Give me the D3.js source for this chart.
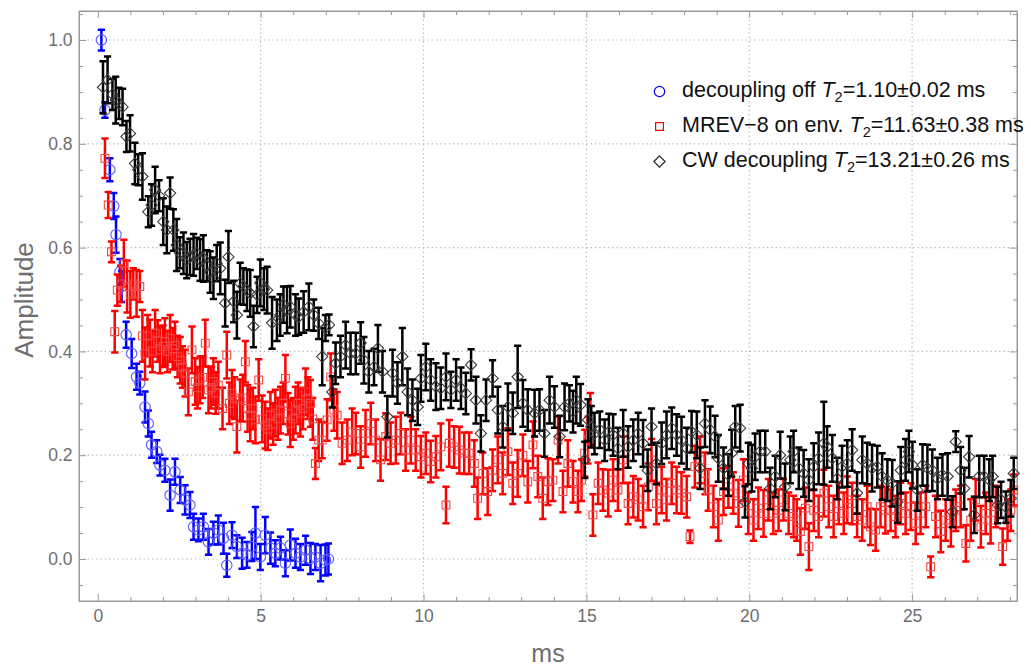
<!DOCTYPE html>
<html>
<head>
<meta charset="utf-8">
<script src="https://cdn.jsdelivr.net/npm/d3@7"></script>
<style>
  body { margin: 0; background: #fff; }
  svg { display: block; }
  text { font-family: "Liberation Sans", Arial, sans-serif; }
</style>
</head>
<body>
<svg id="chart" width="1031" height="666"></svg>
<script>
// Echo amplitude decay, [time (ms), amplitude, error]
const decouplingOff = [[0.11,1.000,0.020],[0.22,0.865,0.015],[0.37,0.750,0.022],[0.49,0.680,0.025],[0.56,0.625,0.035],[0.68,0.553,0.025],[0.73,0.525,0.030],[0.87,0.432,0.025],[1.04,0.396,0.028],[1.19,0.351,0.025],[1.29,0.339,0.022],[1.45,0.293,0.030],[1.55,0.261,0.025],[1.65,0.220,0.025],[1.81,0.207,0.022],[1.91,0.181,0.020],[2.06,0.171,0.022],[2.22,0.123,0.030],[2.37,0.168,0.025],[2.53,0.133,0.025],[2.68,0.114,0.028],[2.83,0.104,0.025],[2.94,0.062,0.025],[3.09,0.056,0.022],[3.24,0.062,0.025],[3.40,0.033,0.025],[3.55,0.050,0.022],[3.70,0.056,0.028],[3.86,0.040,0.030],[3.96,-0.012,0.022],[4.12,0.046,0.025],[4.27,0.024,0.022],[4.43,0.011,0.030],[4.58,0.008,0.025],[4.73,0.024,0.028],[4.84,0.050,0.050],[4.99,0.004,0.025],[5.14,0.046,0.035],[5.30,0.021,0.030],[5.45,0.011,0.025],[5.61,0.021,0.022],[5.76,-0.008,0.025],[5.91,0.027,0.030],[6.07,0.011,0.028],[6.22,0.004,0.025],[6.38,0.017,0.028],[6.53,0.001,0.030],[6.68,0.004,0.025],[6.84,-0.008,0.035],[6.99,-0.002,0.030],[7.08,0.000,0.030]];

const mrevOnEnv = [[0.22,0.772,0.038],[0.32,0.682,0.025],[0.42,0.592,0.020],[0.52,0.438,0.040],[0.60,0.518,0.030],[0.70,0.530,0.035],[0.80,0.570,0.045],[0.90,0.525,0.050],[1.00,0.510,0.045],[1.09,0.530,0.030],[1.19,0.512,0.045],[1.29,0.525,0.030],[1.37,0.430,0.050],[1.45,0.396,0.050],[1.53,0.430,0.040],[1.60,0.416,0.045],[1.68,0.400,0.040],[1.76,0.435,0.045],[1.84,0.420,0.040],[1.91,0.403,0.045],[2.00,0.410,0.040],[2.06,0.419,0.045],[2.14,0.400,0.040],[2.22,0.425,0.045],[2.30,0.405,0.040],[2.37,0.412,0.045],[2.45,0.390,0.040],[2.53,0.383,0.045],[2.60,0.370,0.040],[2.68,0.358,0.045],[2.78,0.322,0.045],[2.89,0.403,0.045],[2.99,0.342,0.045],[3.06,0.330,0.040],[3.14,0.345,0.045],[3.22,0.350,0.040],[3.30,0.416,0.045],[3.40,0.326,0.045],[3.48,0.330,0.040],[3.55,0.342,0.045],[3.62,0.320,0.040],[3.70,0.335,0.045],[3.83,0.290,0.040],[3.96,0.393,0.045],[4.04,0.300,0.040],[4.12,0.319,0.045],[4.20,0.310,0.040],[4.27,0.255,0.050],[4.37,0.306,0.040],[4.45,0.310,0.045],[4.53,0.380,0.040],[4.60,0.290,0.045],[4.68,0.277,0.050],[4.76,0.290,0.040],[4.84,0.268,0.045],[4.94,0.345,0.040],[5.05,0.270,0.045],[5.14,0.258,0.045],[5.22,0.250,0.040],[5.30,0.277,0.045],[5.38,0.260,0.040],[5.45,0.281,0.045],[5.53,0.270,0.040],[5.61,0.287,0.045],[5.69,0.300,0.040],[5.76,0.348,0.045],[5.84,0.280,0.040],[5.91,0.261,0.045],[6.00,0.270,0.040],[6.07,0.287,0.045],[6.15,0.300,0.040],[6.22,0.281,0.045],[6.30,0.290,0.040],[6.38,0.322,0.045],[6.45,0.310,0.040],[6.53,0.300,0.045],[6.60,0.270,0.040],[6.68,0.184,0.030],[6.78,0.229,0.040],[6.89,0.229,0.035],[7.04,0.268,0.040],[7.15,0.351,0.045],[7.25,0.287,0.040],[7.35,0.277,0.045],[7.50,0.223,0.040],[7.66,0.229,0.040],[7.81,0.245,0.045],[7.92,0.242,0.040],[8.07,0.216,0.040],[8.22,0.242,0.045],[8.38,0.261,0.040],[8.53,0.229,0.040],[8.68,0.191,0.040],[8.84,0.236,0.045],[8.99,0.223,0.040],[9.15,0.229,0.045],[9.30,0.242,0.040],[9.45,0.210,0.040],[9.61,0.229,0.045],[9.76,0.210,0.040],[9.92,0.197,0.040],[10.07,0.204,0.040],[10.22,0.188,0.040],[10.38,0.197,0.040],[10.53,0.216,0.045],[10.69,0.104,0.035],[10.79,0.223,0.045],[10.94,0.216,0.040],[11.10,0.210,0.045],[11.25,0.204,0.040],[11.40,0.204,0.040],[11.56,0.184,0.045],[11.66,0.117,0.040],[11.82,0.165,0.040],[11.97,0.130,0.045],[12.12,0.171,0.040],[12.28,0.191,0.045],[12.43,0.165,0.040],[12.59,0.207,0.045],[12.74,0.146,0.040],[12.89,0.165,0.045],[13.05,0.200,0.040],[13.20,0.149,0.040],[13.36,0.220,0.045],[13.51,0.159,0.040],[13.66,0.117,0.040],[13.82,0.149,0.045],[13.97,0.152,0.040],[14.13,0.229,0.045],[14.28,0.130,0.040],[14.43,0.184,0.045],[14.59,0.149,0.040],[14.74,0.130,0.040],[14.85,0.152,0.040],[14.95,0.204,0.045],[15.05,0.229,0.045],[15.12,0.270,0.050],[15.20,0.085,0.040],[15.36,0.146,0.040],[15.51,0.133,0.040],[15.67,0.127,0.045],[15.82,0.152,0.040],[15.97,0.133,0.040],[16.13,0.191,0.045],[16.28,0.107,0.040],[16.44,0.120,0.040],[16.59,0.114,0.040],[16.74,0.101,0.040],[16.90,0.139,0.045],[17.00,0.191,0.040],[17.15,0.107,0.040],[17.31,0.133,0.045],[17.46,0.114,0.040],[17.62,0.146,0.040],[17.77,0.133,0.045],[17.92,0.127,0.040],[18.08,0.120,0.040],[18.18,0.043,0.012],[18.33,0.178,0.040],[18.49,0.191,0.045],[18.64,0.165,0.040],[18.74,0.133,0.040],[18.90,0.101,0.040],[19.05,0.075,0.040],[19.21,0.130,0.045],[19.36,0.139,0.040],[19.51,0.127,0.040],[19.67,0.107,0.045],[19.82,0.152,0.040],[19.97,0.088,0.040],[20.13,0.075,0.040],[20.28,0.098,0.040],[20.44,0.088,0.045],[20.59,0.114,0.040],[20.74,0.088,0.040],[20.90,0.094,0.040],[21.05,0.114,0.040],[21.21,0.088,0.040],[21.36,0.082,0.040],[21.46,0.075,0.040],[21.57,0.053,0.045],[21.72,0.098,0.040],[21.83,0.024,0.045],[21.98,0.094,0.040],[22.13,0.082,0.040],[22.29,0.127,0.045],[22.44,0.101,0.040],[22.59,0.082,0.040],[22.75,0.107,0.040],[22.90,0.088,0.040],[23.01,0.114,0.045],[23.16,0.107,0.040],[23.31,0.082,0.040],[23.47,0.075,0.040],[23.62,0.101,0.040],[23.72,0.062,0.035],[23.88,0.056,0.040],[24.03,0.101,0.040],[24.18,0.094,0.045],[24.34,0.094,0.040],[24.49,0.082,0.040],[24.65,0.107,0.040],[24.80,0.088,0.040],[24.96,0.101,0.045],[25.11,0.069,0.040],[25.26,0.088,0.040],[25.42,0.101,0.040],[25.57,-0.015,0.020],[25.72,0.082,0.040],[25.88,0.053,0.040],[26.03,0.075,0.040],[26.19,0.069,0.045],[26.34,0.094,0.040],[26.49,0.101,0.040],[26.65,0.030,0.035],[26.80,0.075,0.040],[26.95,0.114,0.040],[27.11,0.062,0.040],[27.26,0.088,0.040],[27.41,0.075,0.045],[27.57,0.101,0.040],[27.78,0.024,0.035],[27.93,0.075,0.040],[28.03,0.094,0.040],[28.12,0.133,0.030]];

const cwDecoupling = [[0.16,0.909,0.050],[0.30,0.923,0.045],[0.45,0.895,0.030],[0.55,0.884,0.045],[0.65,0.878,0.030],[0.76,0.871,0.035],[0.88,0.814,0.030],[0.99,0.820,0.035],[1.14,0.762,0.040],[1.24,0.750,0.030],[1.37,0.737,0.045],[1.55,0.669,0.030],[1.65,0.682,0.040],[1.76,0.711,0.045],[1.88,0.700,0.030],[2.01,0.650,0.045],[2.12,0.634,0.045],[2.22,0.705,0.030],[2.32,0.634,0.040],[2.42,0.605,0.050],[2.52,0.590,0.030],[2.63,0.589,0.040],[2.73,0.576,0.035],[2.83,0.582,0.035],[2.94,0.586,0.040],[3.04,0.589,0.030],[3.14,0.576,0.040],[3.24,0.579,0.045],[3.35,0.565,0.030],[3.45,0.553,0.040],[3.55,0.541,0.040],[3.65,0.570,0.035],[3.76,0.560,0.050],[3.91,0.493,0.045],[4.01,0.582,0.050],[4.17,0.496,0.040],[4.27,0.470,0.045],[4.37,0.531,0.040],[4.47,0.525,0.035],[4.58,0.518,0.040],[4.68,0.512,0.045],[4.78,0.448,0.040],[4.89,0.509,0.035],[4.99,0.532,0.045],[5.10,0.520,0.040],[5.20,0.518,0.045],[5.35,0.455,0.050],[5.50,0.460,0.040],[5.60,0.470,0.040],[5.70,0.490,0.035],[5.81,0.480,0.045],[5.91,0.486,0.040],[6.07,0.470,0.040],[6.17,0.467,0.035],[6.32,0.476,0.040],[6.48,0.486,0.045],[6.63,0.470,0.030],[6.78,0.454,0.030],[6.89,0.390,0.055],[6.99,0.445,0.025],[7.10,0.451,0.020],[7.20,0.322,0.030],[7.30,0.377,0.040],[7.45,0.390,0.040],[7.61,0.412,0.045],[7.76,0.396,0.040],[7.92,0.396,0.040],[8.07,0.416,0.040],[8.17,0.383,0.045],[8.32,0.361,0.040],[8.48,0.370,0.035],[8.60,0.406,0.045],[8.74,0.361,0.040],[8.89,0.274,0.040],[9.05,0.358,0.045],[9.20,0.339,0.040],[9.35,0.390,0.055],[9.51,0.322,0.045],[9.66,0.306,0.040],[9.82,0.293,0.035],[9.92,0.348,0.045],[10.07,0.370,0.045],[10.22,0.345,0.040],[10.38,0.332,0.045],[10.53,0.329,0.040],[10.69,0.351,0.045],[10.84,0.326,0.035],[11.00,0.345,0.040],[11.15,0.329,0.040],[11.30,0.319,0.040],[11.46,0.374,0.030],[11.61,0.306,0.045],[11.76,0.242,0.035],[11.92,0.306,0.040],[12.12,0.348,0.035],[12.28,0.287,0.045],[12.43,0.255,0.040],[12.59,0.293,0.045],[12.74,0.281,0.040],[12.89,0.351,0.060],[13.05,0.300,0.045],[13.20,0.287,0.040],[13.41,0.281,0.045],[13.56,0.287,0.040],[13.71,0.242,0.045],[13.87,0.306,0.045],[14.02,0.293,0.040],[14.18,0.236,0.040],[14.33,0.293,0.045],[14.48,0.300,0.035],[14.59,0.284,0.040],[14.69,0.306,0.045],[14.82,0.297,0.040],[14.95,0.191,0.035],[15.05,0.268,0.040],[15.15,0.255,0.040],[15.25,0.242,0.040],[15.41,0.249,0.035],[15.56,0.229,0.040],[15.69,0.245,0.035],[15.82,0.239,0.040],[15.97,0.213,0.040],[16.13,0.242,0.045],[16.28,0.216,0.040],[16.44,0.229,0.040],[16.59,0.242,0.040],[16.74,0.223,0.045],[16.88,0.171,0.040],[17.00,0.255,0.035],[17.15,0.184,0.040],[17.31,0.223,0.040],[17.46,0.239,0.045],[17.62,0.252,0.040],[17.77,0.239,0.040],[17.92,0.229,0.045],[18.08,0.213,0.040],[18.23,0.245,0.040],[18.39,0.239,0.045],[18.49,0.175,0.040],[18.64,0.261,0.045],[18.80,0.249,0.045],[18.95,0.236,0.040],[19.05,0.194,0.045],[19.21,0.175,0.040],[19.36,0.162,0.040],[19.46,0.204,0.045],[19.57,0.255,0.040],[19.72,0.252,0.045],[19.87,0.110,0.030],[19.97,0.184,0.040],[20.08,0.175,0.045],[20.18,0.197,0.045],[20.33,0.207,0.040],[20.49,0.207,0.040],[20.64,0.136,0.040],[20.80,0.159,0.040],[20.95,0.200,0.045],[21.10,0.139,0.045],[21.26,0.191,0.045],[21.36,0.207,0.040],[21.52,0.175,0.040],[21.67,0.165,0.045],[21.83,0.152,0.040],[21.98,0.178,0.045],[22.13,0.194,0.050],[22.29,0.223,0.080],[22.39,0.216,0.040],[22.55,0.194,0.045],[22.70,0.155,0.040],[22.85,0.178,0.040],[23.01,0.184,0.045],[23.16,0.210,0.040],[23.31,0.127,0.040],[23.47,0.191,0.045],[23.62,0.184,0.040],[23.77,0.175,0.045],[23.93,0.178,0.040],[24.08,0.159,0.045],[24.24,0.152,0.040],[24.39,0.146,0.045],[24.55,0.110,0.040],[24.65,0.171,0.045],[24.80,0.191,0.040],[24.90,0.207,0.040],[25.01,0.181,0.045],[25.16,0.133,0.040],[25.32,0.181,0.040],[25.47,0.175,0.045],[25.62,0.171,0.040],[25.78,0.155,0.040],[25.93,0.162,0.040],[26.09,0.159,0.045],[26.24,0.091,0.030],[26.34,0.226,0.020],[26.49,0.171,0.045],[26.60,0.136,0.040],[26.75,0.197,0.040],[26.91,0.085,0.035],[27.06,0.159,0.040],[27.21,0.159,0.040],[27.37,0.152,0.040],[27.47,0.159,0.040],[27.63,0.104,0.035],[27.73,0.114,0.035],[27.88,0.100,0.030],[28.03,0.117,0.035],[28.12,0.165,0.030]];

const xTicks = [0, 5, 10, 15, 20, 25];
const yTicks = [0.0, 0.2, 0.4, 0.6, 0.8, 1.0];
const legendNames = ["decoupling off ", "MREV\u22128 on env. ", "CW decoupling "];
const legendT2 = ["=1.10\u00b10.02 ms", "=11.63\u00b10.38 ms", "=13.21\u00b10.26 ms"];

const seriesList = [
  { data: decouplingOff, bar: "#0000ff", mark: "#5a5aff", shape: "circle" },
  { data: mrevOnEnv,     bar: "#ff0000", mark: "#f04848", shape: "square" },
  { data: cwDecoupling,  bar: "#000000", mark: "#3a3a3a", shape: "diamond" }
];

const svg = d3.select("#chart");
const frame = { left: 79, right: 1017, top: 11, bottom: 601 };

const x = d3.scaleLinear().domain([-0.577, 28.22]).range([frame.left, frame.right]);
const y = d3.scaleLinear().domain([-0.0809, 1.0559]).range([frame.bottom, frame.top]);

const axisGray = "#9a9a9a";
const labelGray = "#6e6e6e";

// dotted grid at the labelled ticks
const grid = svg.append("g");
grid.selectAll("line.gx").data(xTicks.filter(d => d > 0)).join("line")
  .attr("x1", d => x(d)).attr("x2", d => x(d))
  .attr("y1", frame.top).attr("y2", frame.bottom)
  .attr("stroke", "#b4b4b4").attr("stroke-width", 1.2).attr("stroke-dasharray", "1.3,3");
grid.selectAll("line.gy").data(yTicks).join("line")
  .attr("x1", frame.left).attr("x2", frame.right)
  .attr("y1", d => y(d)).attr("y2", d => y(d))
  .attr("stroke", "#b4b4b4").attr("stroke-width", 1.2).attr("stroke-dasharray", "1.3,3");

// frame axes with inward ticks on all four sides
const xMinor = d3.range(0, 29, 1).filter(d => d % 5 !== 0);
const yMinor = d3.range(-0.05, 1.06, 0.05).map(d => +d.toFixed(2)).filter(d => Math.abs(d * 5 - Math.round(d * 5)) > 1e-6);

function styleAxis(g) {
  g.selectAll(".domain").attr("stroke", axisGray);
  g.selectAll(".tick line").attr("stroke", axisGray);
  g.selectAll(".tick text").attr("fill", labelGray).style("font-size", "17.5px")
    .style("font-family", "'Liberation Sans', Arial, sans-serif");
}

const bottomMajor = svg.append("g").attr("transform", `translate(0,${frame.bottom})`)
  .call(d3.axisBottom(x).tickValues(xTicks).tickSizeInner(-7).tickSizeOuter(0).tickPadding(9).tickFormat(d3.format("d")));
const bottomMinor = svg.append("g").attr("transform", `translate(0,${frame.bottom})`)
  .call(d3.axisBottom(x).tickValues(xMinor).tickSize(-4).tickFormat(""));
const topMajor = svg.append("g").attr("transform", `translate(0,${frame.top})`)
  .call(d3.axisTop(x).tickValues(xTicks).tickSizeInner(-7).tickSizeOuter(0).tickFormat(""));
const topMinor = svg.append("g").attr("transform", `translate(0,${frame.top})`)
  .call(d3.axisTop(x).tickValues(xMinor).tickSize(-4).tickFormat(""));
const leftMajor = svg.append("g").attr("transform", `translate(${frame.left},0)`)
  .call(d3.axisLeft(y).tickValues(yTicks).tickSizeInner(-7).tickSizeOuter(0).tickPadding(6.5).tickFormat(d3.format(".1f")));
const leftMinor = svg.append("g").attr("transform", `translate(${frame.left},0)`)
  .call(d3.axisLeft(y).tickValues(yMinor).tickSize(-4).tickFormat(""));
const rightMajor = svg.append("g").attr("transform", `translate(${frame.right},0)`)
  .call(d3.axisRight(y).tickValues(yTicks).tickSizeInner(-7).tickSizeOuter(0).tickFormat(""));
const rightMinor = svg.append("g").attr("transform", `translate(${frame.right},0)`)
  .call(d3.axisRight(y).tickValues(yMinor).tickSize(-4).tickFormat(""));
[bottomMajor, bottomMinor, topMajor, topMinor, leftMajor, leftMinor, rightMajor, rightMinor].forEach(styleAxis);
[bottomMinor, topMinor, leftMinor, rightMinor].forEach(g => g.select(".domain").remove());
// close the frame across the full width/height
svg.append("rect").attr("x", frame.left).attr("y", frame.top)
  .attr("width", frame.right - frame.left).attr("height", frame.bottom - frame.top)
  .attr("fill", "none").attr("stroke", axisGray).attr("stroke-width", 1);

// axis titles
svg.append("text").attr("x", (frame.left + frame.right) / 2).attr("y", 662)
  .attr("text-anchor", "middle").attr("fill", labelGray).style("font-size", "25px").text("ms");
svg.append("text").attr("transform", "translate(33,300) rotate(-90)")
  .attr("text-anchor", "middle").attr("fill", labelGray).style("font-size", "26px").text("Amplitude");

// markers
function markerPath(shape) {
  if (shape === "circle") return "M5.2,0A5.2,5.2 0 1,1 -5.2,0A5.2,5.2 0 1,1 5.2,0Z";
  if (shape === "square") return "M-3.9,-3.9H3.9V3.9H-3.9Z";
  return "M0,-5.6L5.6,0L0,5.6L-5.6,0Z";
}

const plot = svg.append("g");
seriesList.forEach(s => {
  const g = plot.append("g");
  const bars = g.append("g").attr("stroke", s.bar).attr("stroke-width", 2.5).attr("fill", "none");
  bars.selectAll("path").data(s.data).join("path")
    .attr("d", d => {
      const cx = x(d[0]), y1 = y(d[1] - d[2]), y2 = y(d[1] + d[2]);
      return `M${cx},${y1}V${y2}M${cx - 3.6},${y2}H${cx + 3.6}M${cx - 3.6},${y1}H${cx + 3.6}`;
    });
  g.append("g").selectAll("path").data(s.data).join("path")
    .attr("transform", d => `translate(${x(d[0])},${y(d[1])})`)
    .attr("d", markerPath(s.shape))
    .attr("fill", "none").attr("stroke", s.mark).attr("stroke-width", 1.1);
});

// legend
const legend = svg.append("g");
seriesList.forEach((s, i) => {
  const cy = 91.5 + i * 35;
  legend.append("path").attr("transform", `translate(659.5,${cy})`)
    .attr("d", markerPath(s.shape)).attr("fill", "none")
    .attr("stroke", s.shape === "diamond" ? "#222" : s.bar).attr("stroke-width", 1.2);
  const t = legend.append("text").attr("x", 682).attr("y", cy + 5).attr("fill", "#111").style("font-size", "21.5px");
  t.append("tspan").text(legendNames[i]);
  t.append("tspan").style("font-style", "italic").text("T");
  t.append("tspan").attr("dy", 5).style("font-size", "14.5px").text("2");
  t.append("tspan").attr("dy", -5).text(legendT2[i]);
});
</script>
</body>
</html>
